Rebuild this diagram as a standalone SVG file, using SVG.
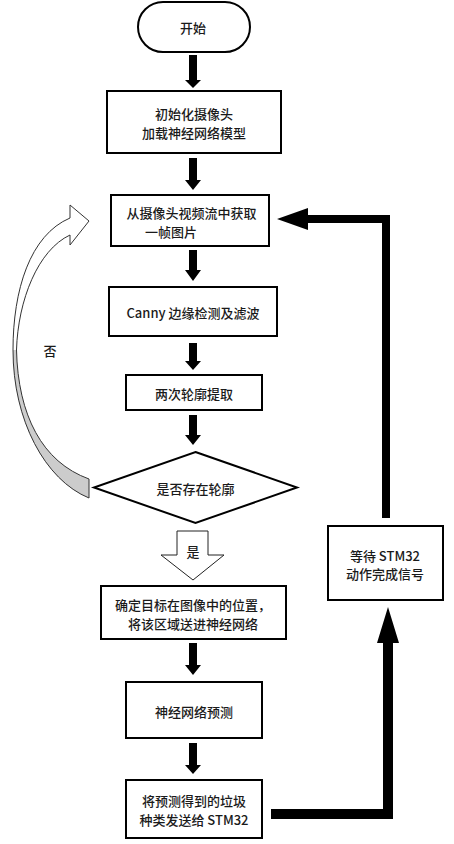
<svg xmlns="http://www.w3.org/2000/svg" width="454" height="844" viewBox="0 0 454 844">
<style>
.box{fill:#fff;stroke:#000;stroke-width:2}
.t{font-family:"Noto Sans CJK SC","Noto Sans",sans-serif;font-size:13px;font-weight:500;fill:#1a1a1a;text-anchor:middle;dominant-baseline:central}
.ts{text-anchor:start}
.arr{fill:#000}
.hollow{fill:#fff;stroke:#222;stroke-width:1}
</style>
<rect width="454" height="844" fill="#fff"/>
<g id="connectors">
  <polygon class="arr" points="189,55 197,55 197,80 201,80 193,88 185,80 189,80"/>
  <polygon class="arr" points="189,158 197,158 197,180 201,180 193,190 185,180 189,180"/>
  <polygon class="arr" points="189,250 197,250 197,270 201,270 193,281 185,270 189,270"/>
  <polygon class="arr" points="189,343 197,343 197,361 201,361 193,370 185,361 189,361"/>
  <polygon class="arr" points="189,415 197,415 197,435 201,435 193,445 185,435 189,435"/>
  <polygon class="arr" points="189,643 197,643 197,665 201,665 193,675 185,665 189,665"/>
  <polygon class="arr" points="189,743 197,743 197,765 201,765 193,774 185,765 189,765"/>
  <polygon class="hollow" points="177,531 208,531 208,555 224,555 193,580 161,555 177,555"/>
  <text class="t" x="193" y="551">是</text>
  <polygon class="arr" points="271,809 383,809 383,643 377,643 388,607 399,643 393,643 393,819 271,819"/>
  <polygon class="arr" points="382,518 390,518 390,215 308,215 308,208 277,219 308,230 308,223 382,223"/>
  <g id="no-loop">
    <path d="M70,218 C30,235 13,290 13,350 C13,420 45,480 89,498 L89,479 C42,462 18,415 16.5,350 C18,300 38,250 70,235 L70,245 L89,221 L70,205 Z" fill="#fff"/>
    <path d="M13,350 C13,420 45,480 89,498 L89,479 C42,462 18,415 16.5,350 Z" fill="#cccccc"/>
    <path d="M70,218 C30,235 13,290 13,350 C13,420 45,480 89,498 L89,479 C42,462 18,415 16.5,350 C18,300 38,250 70,235 L70,245 L89,221 L70,205 Z" fill="none" stroke="#333" stroke-width="1"/>
  </g>
  <text class="t" x="50" y="350">否</text>
</g>
<g id="start">
  <rect class="box" x="138" y="2" width="112" height="50" rx="25" ry="25"/>
  <text class="t" x="193" y="27">开始</text>
</g>
<g id="init">
  <rect class="box" x="107" y="91" width="174" height="62"/>
  <text class="t" x="194" y="113">初始化摄像头</text>
  <text class="t" x="194" y="132">加载神经网络模型</text>
</g>
<g id="grab">
  <rect class="box" x="111" y="195" width="158" height="51"/>
  <text class="t" x="191.5" y="212">从摄像头视频流中获取</text>
  <text class="t ts" x="145" y="231">一帧图片</text>
</g>
<g id="canny">
  <rect class="box" x="109" y="287" width="168" height="49"/>
  <text class="t" x="193" y="312">Canny 边缘检测及滤波</text>
</g>
<g id="contour">
  <rect class="box" x="126" y="375" width="136" height="35"/>
  <text class="t" x="194" y="393">两次轮廓提取</text>
</g>
<g id="decision">
  <polygon class="box" points="195.5,452 297,487.5 195.5,523 94,487.5"/>
  <text class="t" x="195.5" y="488">是否存在轮廓</text>
</g>
<g id="locate">
  <rect class="box" x="101" y="586" width="185" height="53"/>
  <text class="t" x="193" y="604">确定目标在图像中的位置，</text>
  <text class="t" x="193" y="623">将该区域送进神经网络</text>
</g>
<g id="predict">
  <rect class="box" x="126" y="682" width="136" height="56"/>
  <text class="t" x="194" y="711">神经网络预测</text>
</g>
<g id="send">
  <rect class="box" x="126" y="780" width="136" height="58"/>
  <text class="t" x="194" y="800">将预测得到的垃圾</text>
  <text class="t" x="194" y="819">种类发送给 STM32</text>
</g>
<g id="wait">
  <rect class="box" x="328" y="526" width="115" height="74"/>
  <text class="t" x="385" y="555">等待 STM32</text>
  <text class="t" x="385" y="573">动作完成信号</text>
</g>
</svg>
